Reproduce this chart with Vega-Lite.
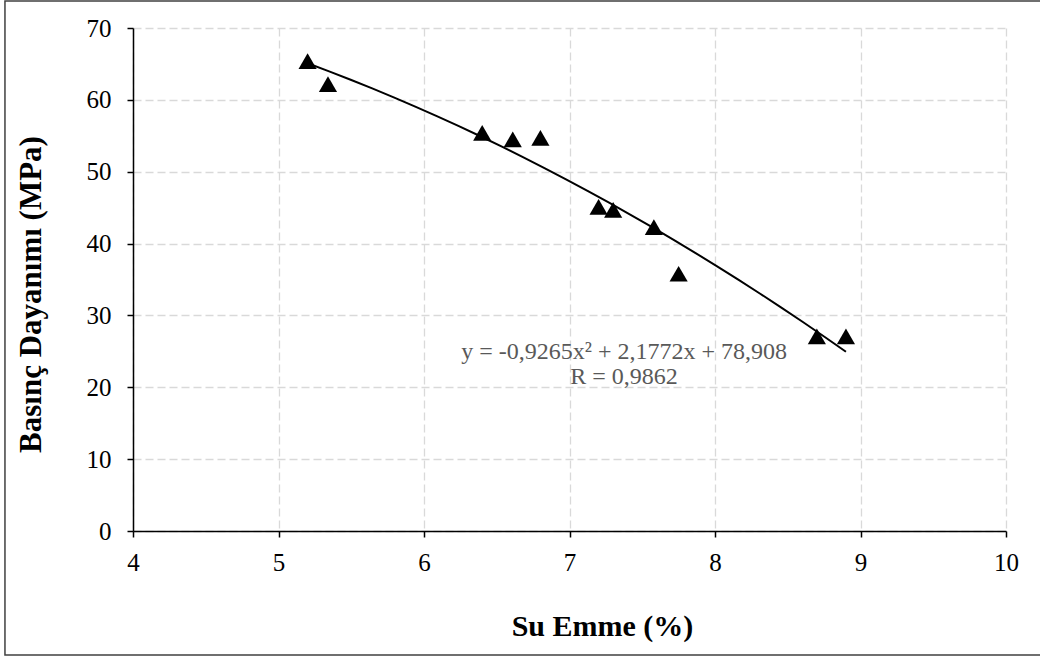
{
  "$schema": "https://vega.github.io/schema/vega-lite/v6.json",
  "autosize": {"type": "none"},
  "width": 873,
  "height": 503,
  "padding": {"left": 133, "top": 28, "right": 34, "bottom": 130},
  "background": "white",
  "config": {
    "view": {"stroke": null},
    "font": "Liberation Serif"
  },
  "datasets": {
    "points": [
      {"su": 5.20, "basinc": 65.4},
      {"su": 5.34, "basinc": 62.2},
      {"su": 6.40, "basinc": 55.4},
      {"su": 6.61, "basinc": 54.5},
      {"su": 6.80, "basinc": 54.7},
      {"su": 7.20, "basinc": 45.1},
      {"su": 7.30, "basinc": 44.7},
      {"su": 7.58, "basinc": 42.3},
      {"su": 7.75, "basinc": 35.8},
      {"su": 8.70, "basinc": 27.1},
      {"su": 8.90, "basinc": 27.1}
    ],
    "labels": [
      {"su": 7.375, "basinc": 24.9, "text": "y = -0,9265x² + 2,1772x + 78,908"},
      {"su": 7.375, "basinc": 21.4, "text": "R = 0,9862"}
    ]
  },
  "layer": [
    {
      "data": {"values": [{}]},
      "mark": {"type": "rect", "fill": null, "stroke": "#404040", "strokeWidth": 1.5},
      "encoding": {
        "x": {"datum": 3.12, "type": "quantitative"},
        "x2": {"datum": 10.35},
        "y": {"datum": 73.75, "type": "quantitative"},
        "y2": {"datum": -17.26}
      }
    },
    {
      "data": {"name": "points"},
      "transform": [
        {"regression": "basinc", "on": "su", "method": "poly", "order": 2, "extent": [5.2, 8.9]}
      ],
      "mark": {"type": "line", "color": "black", "strokeWidth": 2},
      "encoding": {
        "x": {"field": "su", "type": "quantitative"},
        "y": {"field": "basinc", "type": "quantitative"}
      }
    },
    {
      "data": {"name": "points"},
      "mark": {"type": "point", "shape": "triangle-up", "filled": true, "color": "black", "opacity": 1, "size": 330},
      "encoding": {
        "x": {
          "field": "su", "type": "quantitative",
          "scale": {"domain": [4, 10], "nice": false, "zero": false},
          "axis": {
            "values": [4, 5, 6, 7, 8, 9, 10],
            "format": "d",
            "labelFlush": false,
            "title": "Su Emme (%)",
            "titleFont": "Liberation Serif", "titleFontSize": 30, "titleFontWeight": "bold", "titleColor": "black",
            "titleX": 469, "titleY": 95, "titleAlign": "center", "titleBaseline": "middle",
            "labelFont": "Liberation Serif", "labelFontSize": 25, "labelColor": "black", "labelPadding": 13,
            "domainColor": "black", "domainWidth": 1.5,
            "tickColor": "black", "tickWidth": 1.5, "tickSize": 6,
            "grid": true, "gridColor": "#d9d9d9", "gridDash": [8, 4], "gridWidth": 1.3
          }
        },
        "y": {
          "field": "basinc", "type": "quantitative",
          "scale": {"domain": [0, 70], "nice": false},
          "axis": {
            "values": [0, 10, 20, 30, 40, 50, 60, 70],
            "format": "d",
            "labelFlush": false,
            "title": "Basınç Dayanımı (MPa)",
            "titleFont": "Liberation Serif", "titleFontSize": 31, "titleFontWeight": "bold", "titleColor": "black",
            "titleX": -102, "titleY": 266, "titleAlign": "center", "titleBaseline": "middle", "titleAngle": -90,
            "labelFont": "Liberation Serif", "labelFontSize": 25, "labelColor": "black", "labelPadding": 16,
            "domainColor": "black", "domainWidth": 1.5,
            "tickColor": "black", "tickWidth": 1.5, "tickSize": 6,
            "grid": true, "gridColor": "#d9d9d9", "gridDash": [8, 4], "gridWidth": 1.3
          }
        }
      }
    },
    {
      "data": {"name": "labels"},
      "mark": {"type": "text", "font": "Liberation Serif", "fontSize": 24, "color": "#595959", "align": "center", "baseline": "middle"},
      "encoding": {
        "x": {"field": "su", "type": "quantitative"},
        "y": {"field": "basinc", "type": "quantitative"},
        "text": {"field": "text"}
      }
    }
  ]
}
